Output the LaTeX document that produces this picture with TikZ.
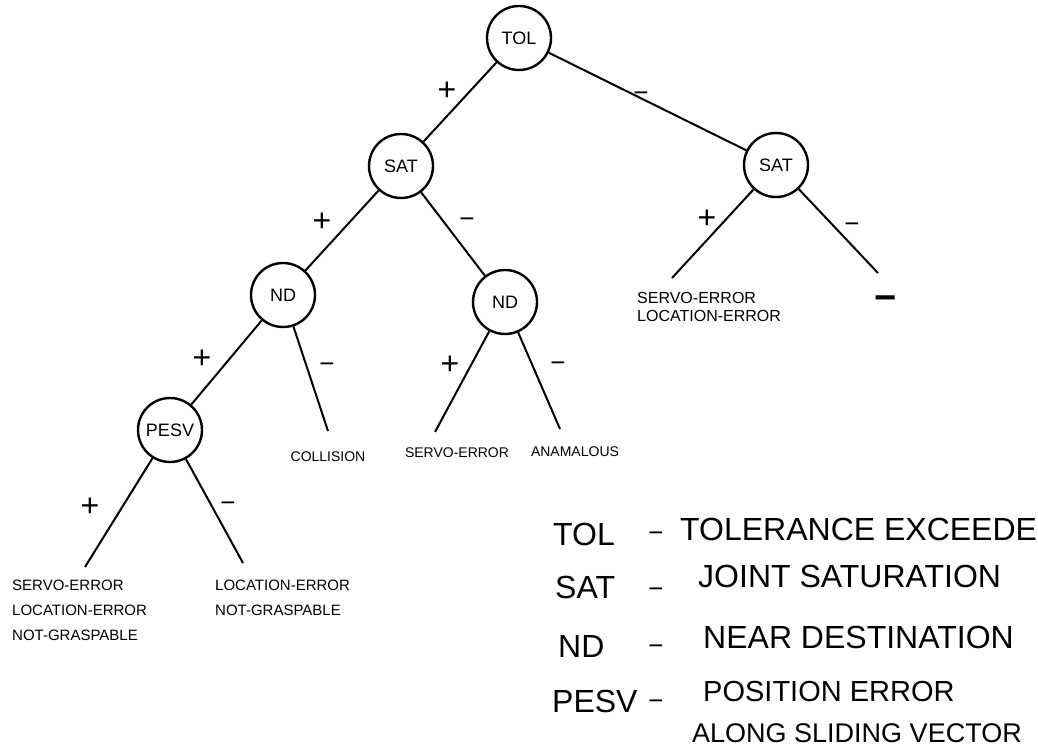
\documentclass[tikz,border=0pt]{standalone}
\usepackage{fontspec}
\setmainfont{Liberation Sans}
\begin{document}
\begin{tikzpicture}[x=1pt,y=-1pt,
  test/.style={circle,draw,line width=2.4pt,minimum size=64pt,inner sep=0pt,
    font=\fontsize{18}{20}\selectfont},
  branch/.style={line width=2pt},
  % signs sit on their baseline, lowered so the glyph centre is at the given point
  plussign/.style={anchor=base,inner sep=0pt,yshift=-11pt,font=\fontsize{32}{32}\selectfont},
  minussign/.style={anchor=base,inner sep=0pt,yshift=-9.3pt,font=\fontsize{26}{26}\selectfont},
  leaf/.style={inner sep=0pt,align=left,font=\fontsize{15}{25}\selectfont},
  midleaf/.style={inner sep=0pt,font=\fontsize{14}{16}\selectfont},
  abbr/.style={anchor=base west,inner sep=0pt,font=\fontsize{32}{34}\selectfont},
  meaning/.style={anchor=base west,inner sep=0pt,font=\fontsize{32}{34}\selectfont}]
\useasboundingbox (0,0) rectangle (1038,746);

% decision nodes
\node[test] (tol)  at (519,38)  {TOL};
\node[test] (satl) at (401,166) {SAT};
\node[test] (satr) at (776,165) {SAT};
\node[test] (ndl)  at (283,295) {ND};
\node[test] (ndm)  at (505,302) {ND};
\node[test] (pesv) at (170,430) {PESV};

% free ends of the leaf branches
\coordinate (satrA) at (672,278);
\coordinate (satrB) at (878,273);
\coordinate (ndlB)  at (328,431);
\coordinate (ndmA)  at (435,432);
\coordinate (ndmB)  at (560,429);
\coordinate (pesvA) at (85,567);
\coordinate (pesvB) at (243,563);

% branches
\draw[branch] (tol) -- (satl);
\draw[branch] (tol) -- (satr);
\draw[branch] (satl) -- (ndl);
\draw[branch] (satl) -- (ndm);
\draw[branch] (satr) -- (satrA);
\draw[branch] (satr) -- (satrB);
\draw[branch] (ndl) -- (pesv);
\draw[branch] (ndl) -- (ndlB);
\draw[branch] (ndm) -- (ndmA);
\draw[branch] (ndm) -- (ndmB);
\draw[branch] (pesv) -- (pesvA);
\draw[branch] (pesv) -- (pesvB);

% branch signs
\node[plussign]  (s1)  at (447,90)  {+};
\node[minussign] (s2)  at (641,92)  {−};
\node[plussign]  (s3)  at (322,220) {+};
\node[minussign] (s4)  at (467,218) {−};
\node[plussign]  (s5)  at (707,217) {+};
\node[minussign] (s6)  at (852,223) {−};
\node[plussign]  (s7)  at (202,357) {+};
\node[minussign] (s8)  at (327,363) {−};
\node[plussign]  (s9)  at (450,363) {+};
\node[minussign] (s10) at (558,362) {−};
\node[plussign]  (s11) at (90,505)  {+};
\node[minussign] (s12) at (228,502) {−};

% outcomes
\node[leaf,anchor=north west,font=\fontsize{16}{18}\selectfont] (o1) at (637,292)
  {SERVO-ERROR\\LOCATION-ERROR};
\node[minussign,yshift=-4.5pt,font=\bfseries\fontsize{38}{38}\selectfont] (o2) at (886,297) {−};
\node[midleaf] (o3) at (328,457) {COLLISION};
\node[midleaf] (o4) at (457,453) {SERVO-ERROR};
\node[midleaf] (o5) at (575,452) {ANAMALOUS};
\node[leaf,anchor=north west] (o6) at (12,580)
  {SERVO-ERROR\\LOCATION-ERROR\\NOT-GRASPABLE};
\node[leaf,anchor=north west] (o7) at (215,580)
  {LOCATION-ERROR\\NOT-GRASPABLE};

% legend
\node[abbr] (kTol)  at (553,545) {TOL};
\node[abbr] (kSat)  at (555,598) {SAT};
\node[abbr] (kNd)   at (558,657) {ND};
\node[abbr] (kPesv) at (552,712) {PESV};
\node[minussign] (d1) at (656,532) {−};
\node[minussign] (d2) at (656,588) {−};
\node[minussign] (d3) at (656,645) {−};
\node[minussign] (d4) at (656,700) {−};
\node[meaning] (mTol)  at (680,540) {TOLERANCE EXCEEDE};
\node[meaning] (mSat)  at (698,587) {JOINT SATURATION};
\node[meaning] (mNd)   at (703,648) {NEAR DESTINATION};
\node[meaning,font=\fontsize{29}{31}\selectfont] (mPesv) at (703,701) {POSITION ERROR};
\node[meaning,font=\fontsize{27}{29}\selectfont] (mAlong) at (692,742) {ALONG SLIDING VECTOR};
\end{tikzpicture}
\end{document}
